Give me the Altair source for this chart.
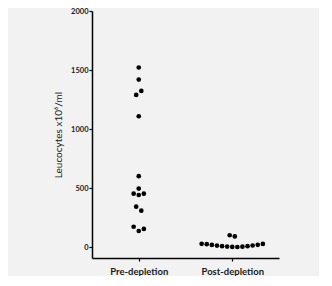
import altair as alt
import pandas as pd

# Data, in the order the dots appear left-to-right within a row
groups = ["Pre-depletion", "Post-depletion"]
pre_values = [1521, 1419, 1289, 1323, 1108, 600, 495, 452, 441, 452, 342, 308, 172, 136, 153]
post_values = [100, 90, 27, 24, 18, 12, 7, 4, 1, 0, 3, 7, 13, 19, 26]
y_ticks = [0, 500, 1000, 1500, 2000]

# Scatter-dot layout (like Prism): values close together share a row and are spread sideways
WIDTH, HEIGHT = 187, 247
X_DOMAIN = [0.5, 2.5]
Y_DOMAIN = [-93, 2000]
DOT_GAP_PX = 5.1
ROW_TOL = 40  # data units

px_per_x = WIDTH / (X_DOMAIN[1] - X_DOMAIN[0])


def swarm(values, center):
    order = sorted(range(len(values)), key=lambda i: -values[i])
    rows, current, top = [], [], None
    for i in order:
        if current and top - values[i] <= ROW_TOL:
            current.append(i)
        else:
            if current:
                rows.append(current)
            current, top = [i], values[i]
    rows.append(current)
    xs = [0.0] * len(values)
    for row in rows:
        row = sorted(row)
        n = len(row)
        for k, i in enumerate(row):
            xs[i] = center + (k - (n - 1) / 2) * DOT_GAP_PX / px_per_x
    return xs


records = []
for gi, (name, vals) in enumerate(zip(groups, [pre_values, post_values])):
    for v, x in zip(vals, swarm(vals, gi + 1)):
        records.append({"group": name, "x": x, "value": v})
df = pd.DataFrame(records)

label_expr = "datum.value == 1 ? '%s' : (datum.value == 2 ? '%s' : '')" % (groups[0], groups[1])

chart = (
    alt.Chart(df)
    .mark_circle(color="black", opacity=1, size=22)
    .encode(
        x=alt.X(
            "x:Q",
            scale=alt.Scale(domain=X_DOMAIN, nice=False, zero=False),
            axis=alt.Axis(
                values=[1, 2],
                labelExpr=label_expr,
                title=None,
                grid=False,
                domainColor="black",
                domainWidth=1.5,
                tickColor="black",
                tickWidth=1.2,
                tickSize=3,
                labelFont="Lato",
                labelFontSize=9.5,
                labelFontWeight="bold",
                labelColor="#1a1a1a",
                labelPadding=5,
            ),
        ),
        y=alt.Y(
            "value:Q",
            scale=alt.Scale(domain=Y_DOMAIN, nice=False, zero=False),
            axis=alt.Axis(
                values=y_ticks,
                format="d",
                title="Leucocytes x10⁶/ml",
                titleFont="Lato",
                titleFontSize=10,
                titleFontWeight="normal",
                titleColor="#1a1a1a",
                titlePadding=7,
                grid=False,
                domainColor="black",
                domainWidth=1.5,
                tickColor="black",
                tickWidth=1.2,
                tickSize=3,
                labelFont="Lato",
                labelFontSize=7.5,
                labelFontWeight="bold",
                labelColor="#1a1a1a",
                labelPadding=1,
            ),
        ),
    )
    .properties(
        width=WIDTH,
        height=HEIGHT,
        autosize=alt.AutoSizeParams(type="none"),
        padding={"left": 84, "top": 3, "right": 40, "bottom": 18},
        background="#f2f2f2",
    )
    .configure_view(stroke=None)
)

chart.save("out.html", embed_options={"renderer": "svg", "actions": False})
